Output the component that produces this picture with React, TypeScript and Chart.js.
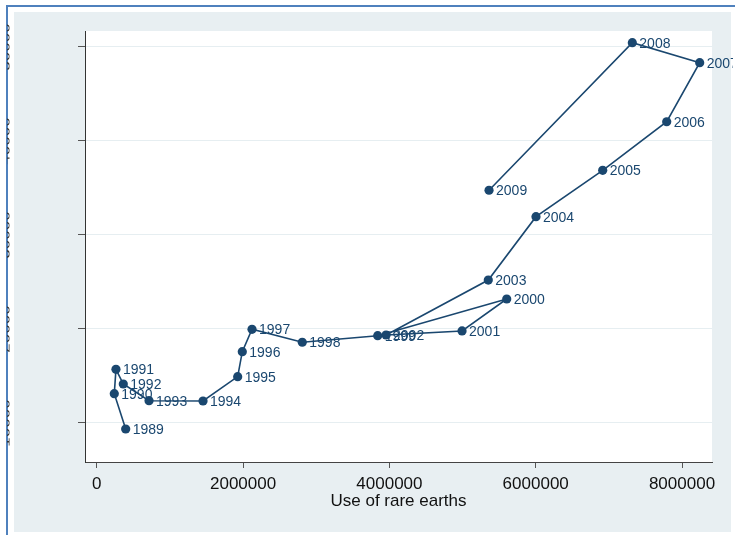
import React, { useEffect, useRef } from "react";
import { Chart, registerables } from "chart.js";

Chart.register(...registerables);

// ---- data ----
const years = [
  "1989", "1990", "1991", "1992", "1993", "1994", "1995", "1996", "1997", "1998",
  "1999", "2000", "2001", "2002", "2003", "2004", "2005", "2006", "2007", "2008", "2009",
];
const useOfRareEarths = [
  395000, 239000, 262000, 362000, 714000, 1452000, 1926000, 1989000, 2122000, 2809000,
  3840000, 5604000, 4993000, 3954000, 5352000, 6004000, 6916000, 7791000, 8242000, 7321000, 5362000,
];
const yValues = [
  9360, 13120, 15710, 14150, 12370, 12340, 14930, 17590, 19970, 18590,
  19290, 23190, 19790, 19360, 25210, 31950, 36880, 42050, 48330, 50460, 34760,
];
const xTicks = [0, 2000000, 4000000, 6000000, 8000000];
const yTicks = [10000, 20000, 30000, 40000, 50000];
const xTitle = "Use of rare earths";

const NAVY = "#1a476f";
const BG = "#e8eff2";
const FONT = "'Liberation Sans', Arial, Helvetica, sans-serif";

export default function App() {
  const ref = useRef<HTMLCanvasElement | null>(null);

  useEffect(() => {
    document.body.style.margin = "0";
    const canvas = ref.current;
    if (!canvas) return;

    const bgPlugin = {
      id: "bgPlugin",
      beforeDraw(chart: any) {
        const ctx = chart.ctx;
        const { left, top, right, bottom } = chart.chartArea;
        ctx.save();
        ctx.fillStyle = "#ffffff";
        ctx.fillRect(0, 0, chart.width, chart.height);
        // blue frame lines
        ctx.fillStyle = "#4f81bd";
        ctx.fillRect(6, 5, chart.width - 6, 2);
        ctx.fillRect(6, 5, 2, chart.height - 5);
        // graph region
        ctx.fillStyle = BG;
        ctx.fillRect(14, 12, 731 - 14, 532 - 12);
        // plot region
        ctx.fillStyle = "#ffffff";
        ctx.fillRect(left, top, right - left, bottom - top);
        ctx.restore();
      },
    };

    const labelPlugin = {
      id: "labelPlugin",
      afterDatasetsDraw(chart: any) {
        const ctx = chart.ctx;
        const xs = chart.scales.x;
        const ys = chart.scales.y;
        ctx.save();
        ctx.beginPath();
        ctx.rect(14, 12, 733 - 14, 532 - 12);
        ctx.clip();
        ctx.font = `14px ${FONT}`;
        ctx.fillStyle = NAVY;
        ctx.textAlign = "left";
        ctx.textBaseline = "middle";
        years.forEach((yr, i) => {
          const px = xs.getPixelForValue(useOfRareEarths[i]);
          const py = ys.getPixelForValue(yValues[i]);
          ctx.fillText(yr, px + 7, py + 1);
        });
        ctx.restore();
      },
      afterDraw(chart: any) {
        // y tick labels, mostly cut off by the left edge of the picture
        const ctx = chart.ctx;
        const ys = chart.scales.y;
        ctx.save();
        ctx.beginPath();
        ctx.rect(7, 12, 2.5, chart.height - 12);
        ctx.clip();
        ctx.font = `17px ${FONT}`;
        ctx.fillStyle = "#333";
        ctx.textAlign = "center";
        ctx.textBaseline = "alphabetic";
        yTicks.forEach((v) => {
          const py = ys.getPixelForValue(v);
          ctx.save();
          ctx.translate(9.5, py);
          ctx.rotate(-Math.PI / 2);
          ctx.fillText(String(v), 0, 0);
          ctx.restore();
        });
        ctx.restore();
      },
    };

    const chart = new Chart(canvas, {
      type: "scatter",
      data: {
        datasets: [
          {
            label: "rare earths",
            data: useOfRareEarths.map((x, i) => ({ x, y: yValues[i] })),
            showLine: true,
            borderColor: NAVY,
            borderWidth: 1.6,
            backgroundColor: NAVY,
            pointBackgroundColor: NAVY,
            pointBorderColor: NAVY,
            pointBorderWidth: 0,
            pointRadius: 4.6,
            pointHoverRadius: 4.6,
            tension: 0,
          },
        ],
      },
      options: {
        responsive: false,
        animation: false,
        devicePixelRatio: 1,
        layout: { padding: { left: 0, top: 31, right: 23, bottom: 0 } },
        plugins: {
          legend: { display: false },
          tooltip: { enabled: false },
          title: { display: false },
        },
        scales: {
          x: {
            type: "linear",
            position: "bottom",
            min: -161300,
            max: 8410100,
            afterBuildTicks: (s: any) => {
              s.ticks = xTicks.map((v) => ({ value: v }));
            },
            afterFit: (s: any) => {
              s.height = 73;
            },
            ticks: {
              color: "#111",
              font: { family: FONT, size: 17 },
              padding: 6,
              maxRotation: 0,
              autoSkip: false,
              callback: (v: any) => String(v),
            },
            grid: {
              drawOnChartArea: false,
              drawTicks: true,
              tickLength: 6,
              tickColor: "#555",
              tickWidth: 1,
            },
            border: { display: true, color: "#444", width: 1 },
            title: {
              display: true,
              text: xTitle,
              color: "#111",
              font: { family: FONT, size: 17 },
              padding: { top: 0, bottom: 23 },
            },
          },
          y: {
            type: "linear",
            position: "left",
            min: 5851,
            max: 51702,
            afterBuildTicks: (s: any) => {
              s.ticks = yTicks.map((v) => ({ value: v }));
            },
            afterFit: (s: any) => {
              s.width = 85;
            },
            ticks: { display: false },
            grid: {
              color: "#e6eef1",
              lineWidth: 1,
              drawTicks: true,
              tickLength: 7,
              tickColor: "#555",
              tickWidth: 1,
            },
            border: { display: true, color: "#333", width: 1 },
          },
        },
      },
      plugins: [bgPlugin, labelPlugin],
    });

    return () => chart.destroy();
  }, []);

  return (
    <div style={{ width: 735, height: 535 }}>
      <canvas ref={ref} width={735} height={535} style={{ display: "block" }} />
    </div>
  );
}
